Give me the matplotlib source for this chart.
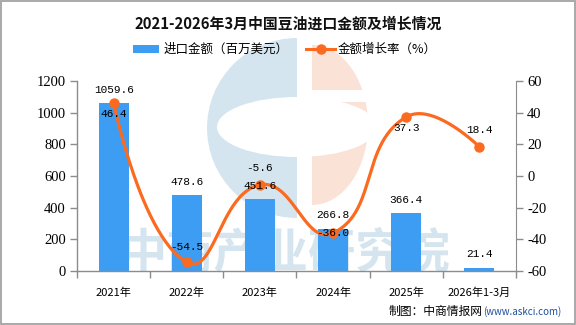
import numpy as np
import matplotlib
matplotlib.use("Agg")
import matplotlib.pyplot as plt
from matplotlib.patches import Wedge, Ellipse, Rectangle
from matplotlib.lines import Line2D

# ---- data ----
categories = ["2021年", "2022年", "2023年", "2024年", "2025年", "2026年1-3月"]
import_value = [1059.6, 478.6, 451.6, 266.8, 366.4, 21.4]      # 百万美元
growth_rate = [46.4, -54.5, -5.6, -36.0, 37.3, 18.4]            # %
left_ticks = [0, 200, 400, 600, 800, 1000, 1200]
right_ticks = [-60, -40, -20, 0, 20, 40, 60]

# label offsets for growth-rate annotations (points, vertical)
rate_label_dy = [-8, 11, 12, 0, -8, 12]

CJK = ["Noto Sans CJK SC", "DejaVu Sans"]
BAR_COLOR = "#3d9df2"
LINE_COLOR = "#fb6a1f"
AXIS_COLOR = "#8c8c8c"

W, H = 576, 325
fig = plt.figure(figsize=(W / 100, H / 100), dpi=100)
fig.patch.set_facecolor("white")

# background layer in pixel coordinates (watermark, title, legend, footer)
bg = fig.add_axes([0, 0, 1, 1], zorder=0)
bg.set_xlim(0, W)
bg.set_ylim(H, 0)
bg.axis("off")

# watermark logo
wm_blue = "#d5e5ef"
wm_orange = "#fbe2d7"
bg.add_patch(Ellipse((312, 125), 112, 160, facecolor=wm_orange, edgecolor="none"))
bg.add_patch(Rectangle((240, 20), 72, 200, facecolor="white", edgecolor="none"))
bg.add_patch(Wedge((297, 128), 90, 90, 270, facecolor=wm_blue, edgecolor="none"))
bg.add_patch(Ellipse((297, 127), 160, 60, facecolor="white", edgecolor="none"))
bg.add_patch(Rectangle((297, 20), 14, 230, facecolor="white", edgecolor="none"))
bg.add_patch(Rectangle((310, 90), 70, 12, facecolor="white", edgecolor="none"))
bg.text(285, 253, "中商产业研究院", fontsize=34, fontweight="bold", color=wm_blue,
        ha="center", va="center", family=CJK)

# title
bg.text(288, 24, "2021-2026年3月中国豆油进口金额及增长情况", fontsize=10.7,
        fontweight="bold", ha="center", va="center", family=CJK, color="#111111")

# legend
bg.add_patch(Rectangle((133, 45), 26, 8, facecolor=BAR_COLOR, edgecolor="none"))
bg.text(164, 49, "进口金额（百万美元）", fontsize=9, ha="left", va="center", family=CJK)
bg.add_line(Line2D([306, 335], [49, 49], color=LINE_COLOR, lw=2.2))
bg.add_line(Line2D([320.5], [49], color=LINE_COLOR, marker="o", ms=6.5, lw=0))
bg.text(338, 49, "金额增长率（%）", fontsize=9, ha="left", va="center", family=CJK)

# footer
bg.text(483, 311, "制图：中商情报网", fontsize=8.5, ha="right", va="center", family=CJK)
bg.text(483, 312, "(www.askci.com)", fontsize=7, ha="left", va="center",
        family=CJK, color="#1f4f9f")

# outer border
bg.add_patch(Rectangle((0.8, 0.8), W - 1.6, H - 1.6, facecolor="none",
                       edgecolor="#a3a3a3", lw=1.3))

# ---- main axes ----
ax = fig.add_axes([77 / W, 1 - 271 / H, (516 - 77) / W, (271 - 81) / H], zorder=1)
ax.patch.set_alpha(0)
x = np.arange(len(categories))
ax.bar(x, import_value, width=0.41, color=BAR_COLOR, zorder=2)
ax.set_xlim(-0.5, len(categories) - 0.5)
ax.set_ylim(left_ticks[0], left_ticks[-1])
ax.set_yticks(left_ticks)
ax.set_yticklabels([str(v) for v in left_ticks], family="Liberation Serif", fontsize=10.5)

ax.set_xticks(x)
ax.set_xticklabels(categories, family=CJK, fontsize=8)
ax.set_xticks(np.arange(len(categories) + 1) - 0.5, minor=True)
ax.tick_params(axis="x", which="major", length=0, pad=12)
ax.tick_params(axis="x", which="minor", length=5, color=AXIS_COLOR, width=1)
ax.tick_params(axis="y", length=5, color=AXIS_COLOR, width=1, pad=3)

for s in ["top", "right"]:
    ax.spines[s].set_visible(False)
for s in ["left", "bottom"]:
    ax.spines[s].set_color(AXIS_COLOR)
    ax.spines[s].set_linewidth(1)

ax2 = ax.twinx()
ax2.set_ylim(right_ticks[0], right_ticks[-1])
ax2.set_yticks(right_ticks)
ax2.set_yticklabels([f"{v}" for v in right_ticks], family="Liberation Serif", fontsize=10.5)
ax2.tick_params(axis="y", length=5, color=AXIS_COLOR, width=1, pad=3)
for s in ["top", "left", "bottom"]:
    ax2.spines[s].set_visible(False)
ax2.spines["right"].set_color(AXIS_COLOR)

# smooth bezier line through the growth-rate points (computed in display-like units)
kx = (516 - 77) / len(categories)
ky = (271 - 81) / (right_ticks[-1] - right_ticks[0])
px = x * kx
py = np.array(growth_rate) * ky
smooth = 0.5
n = len(px)
in_h, out_h = [], []
for i in range(n):
    if i == 0 or i == n - 1:
        in_h.append((px[i], py[i]))
        out_h.append((px[i], py[i]))
        continue
    vx, vy = px[i + 1] - px[i - 1], py[i + 1] - py[i - 1]
    d0 = np.hypot(px[i] - px[i - 1], py[i] - py[i - 1])
    d1 = np.hypot(px[i + 1] - px[i], py[i + 1] - py[i])
    r = d1 / (d0 + d1)
    in_h.append((px[i] - vx * smooth * (1 - r), py[i] - vy * smooth * (1 - r)))
    out_h.append((px[i] + vx * smooth * r, py[i] + vy * smooth * r))
t = np.linspace(0, 1, 60)[:, None]
curve = []
for i in range(n - 1):
    p0 = np.array([px[i], py[i]])
    p1 = np.array(out_h[i])
    p2 = np.array(in_h[i + 1])
    p3 = np.array([px[i + 1], py[i + 1]])
    seg = ((1 - t) ** 3) * p0 + 3 * ((1 - t) ** 2) * t * p1 + 3 * (1 - t) * t ** 2 * p2 + t ** 3 * p3
    curve.append(seg)
curve = np.vstack(curve)
ax2.plot(curve[:, 0] / kx, curve[:, 1] / ky, color=LINE_COLOR, lw=2.3, zorder=3,
         solid_capstyle="round")
ax2.plot(x, growth_rate, lw=0, marker="o", ms=6.5, color=LINE_COLOR, zorder=4)

# value labels
for xi, v in zip(x, import_value):
    ax2.annotate(f"{v:.1f}", (xi, v), xycoords=ax.transData, xytext=(0, 6),
                 textcoords="offset points", ha="center", va="bottom",
                 family="Liberation Mono", fontsize=8, zorder=5)
for xi, v, dy in zip(x, growth_rate, rate_label_dy):
    ax2.annotate(f"{v:.1f}", (xi, v), xytext=(0, dy), textcoords="offset points",
                 ha="center", va="center", family="Liberation Mono", fontsize=8, zorder=5)

fig.savefig("out.png", dpi=100)
